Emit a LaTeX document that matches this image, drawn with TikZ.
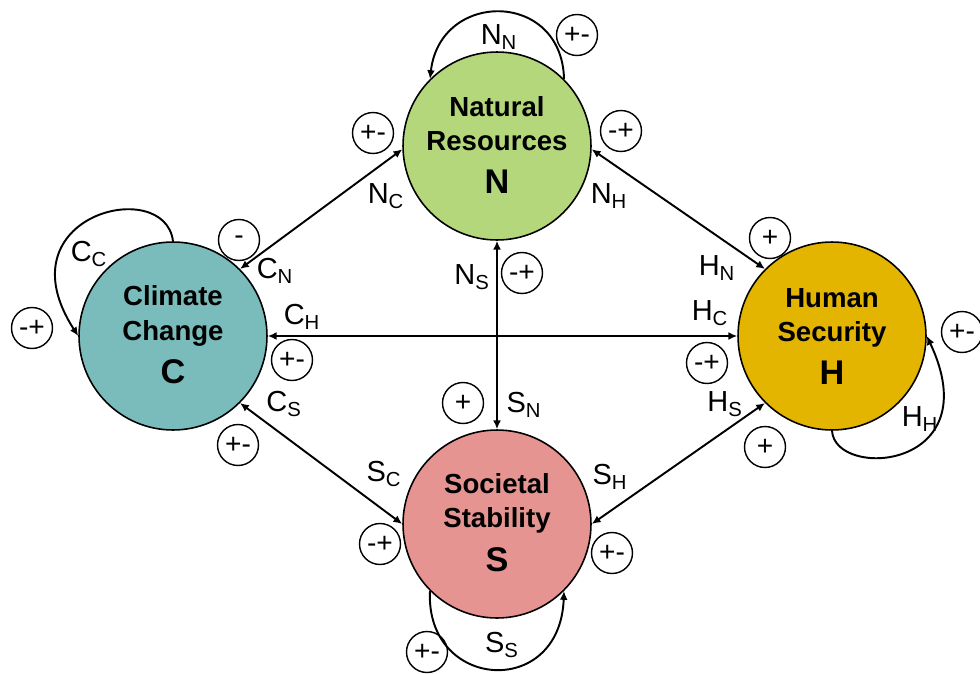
\documentclass[tikz,border=0pt]{standalone}
\usepackage{fontspec}
\setmainfont{Liberation Sans}
\usetikzlibrary{arrows.meta}
\definecolor{ncol}{HTML}{B5D77C}
\definecolor{ccol}{HTML}{79BCBB}
\definecolor{hcol}{HTML}{E3B400}
\definecolor{scol}{HTML}{E59491}
\begin{document}
\begin{tikzpicture}[x=0.02cm,y=-0.02cm,
  bigcirc/.style={circle, draw=black, line width=0.9pt, minimum size=3.76cm, inner sep=0pt},
  sign/.style={circle, draw=black, line width=0.8pt, minimum size=0.82cm, inner sep=0pt, font=\fontsize{16}{16}\selectfont},
  lab/.style={font=\fontsize{16.5}{16.5}\selectfont, inner sep=0pt},
  ttl/.style={font=\bfseries\fontsize{15.7}{15.7}\selectfont, anchor=base, inner sep=0pt},
  bigl/.style={font=\bfseries\fontsize{19.5}{19.5}\selectfont, anchor=base, inner sep=0pt},
  conn/.style={line width=1.1pt, {Latex[length=5pt,width=4.5pt]}-{Latex[length=5pt,width=4.5pt]}},
  selfloop/.style={line width=1.1pt, -{Latex[length=5pt,width=4.5pt]}},
]
\useasboundingbox (0,0) rectangle (980,673);

% main circles
\node[bigcirc, fill=ncol] (N) at (497,146) {};
\node[bigcirc, fill=ccol] (C) at (173,336) {};
\node[bigcirc, fill=hcol] (H) at (832,336) {};
\node[bigcirc, fill=scol] (S) at (497,524) {};

% circle texts
\node[ttl] (Nt1) at (497,116) {Natural};
\node[ttl] (Nt2) at (497,150) {Resources};
\node[bigl] (Nt3) at (497,193) {N};
\node[ttl] (Ct1) at (173,305) {Climate};
\node[ttl] (Ct2) at (173,340) {Change};
\node[bigl] (Ct3) at (173,383) {C};
\node[ttl] (Ht1) at (832,307) {Human};
\node[ttl] (Ht2) at (832,341) {Security};
\node[bigl] (Ht3) at (832,384) {H};
\node[ttl] (St1) at (497,493) {Societal};
\node[ttl] (St2) at (497,527) {Stability};
\node[bigl] (St3) at (497,571) {S};

% connectors
\draw[conn] (C.45) -- (N.182);
\draw[conn] (N.-2) -- (H.135);
\draw[conn] (N.-90) -- (S.90);
\draw[conn] (C.0) -- (H.180);
\draw[conn] (C.-45) -- (S.180);
\draw[conn] (H.-135) -- (S.0);

% self loops
\draw[selfloop] (N.45) .. controls (562,-10) and (440,-10) .. (N.135);
\draw[selfloop] (C.90) .. controls (165,175) and (0,215) .. (C.180);
\draw[selfloop] (H.-90) .. controls (835,480) and (990,470) .. (H.0);
\draw[selfloop] (S.-135) .. controls (425,690) and (560,700) .. (S.-45);

% labels
\node[lab] (lNN) at (499,37) {N\textsubscript{N}};
\node[lab] (lNC) at (386,196) {N\textsubscript{C}};
\node[lab] (lCN) at (275,271) {C\textsubscript{N}};
\node[lab] (lNH) at (609,196) {N\textsubscript{H}};
\node[lab] (lHN) at (717,268) {H\textsubscript{N}};
\node[lab] (lHC) at (710,313) {H\textsubscript{C}};
\node[lab] (lHS) at (725,404) {H\textsubscript{S}};
\node[lab] (lHH) at (920,419) {H\textsubscript{H}};
\node[lab] (lCC) at (89,254) {C\textsubscript{C}};
\node[lab] (lCH) at (302,317) {C\textsubscript{H}};
\node[lab] (lCS) at (284,404) {C\textsubscript{S}};
\node[lab] (lSC) at (384,474) {S\textsubscript{C}};
\node[lab] (lNS) at (472,277) {N\textsubscript{S}};
\node[lab] (lSN) at (524,405) {S\textsubscript{N}};
\node[lab] (lSH) at (610,477) {S\textsubscript{H}};
\node[lab] (lSS) at (502,645) {S\textsubscript{S}};

% sign circles
\node[sign] (sNN) at (577,35) {+-};
\node[sign] (sNH) at (621,131) {-+};
\node[sign] (sHN) at (770,238) {+};
\node[sign] (sHC) at (707,363) {-+};
\node[sign] (sHS) at (765,447) {+};
\node[sign] (sHH) at (962,332) {+-};
\node[sign] (sNC) at (373,133) {+-};
\node[sign] (sCN) at (239,240) {-};
\node[sign] (sCC) at (32,328) {-+};
\node[sign] (sCH) at (292,360) {+-};
\node[sign] (sCS) at (238,445) {+-};
\node[sign] (sSC) at (380,544) {-+};
\node[sign] (sNS) at (522,273) {-+};
\node[sign] (sSN) at (463,403) {+};
\node[sign] (sSH) at (612,553) {+-};
\node[sign] (sSS) at (427,652) {+-};
\end{tikzpicture}
\end{document}
